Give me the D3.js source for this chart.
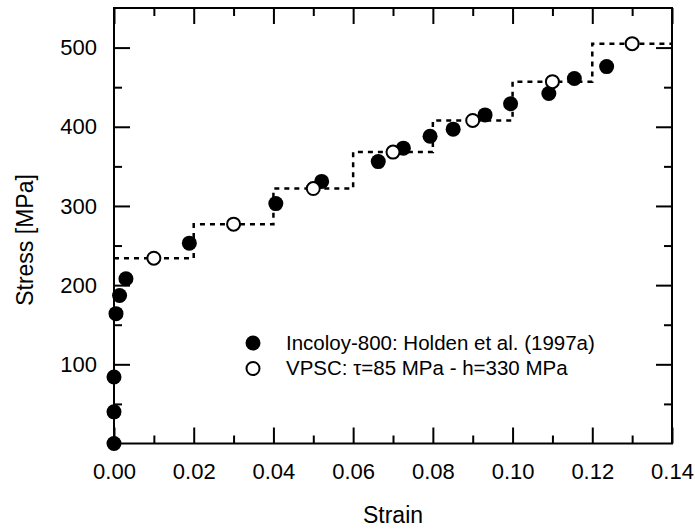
<!DOCTYPE html>
<html>
<head>
<meta charset="utf-8">
<script src="https://cdn.jsdelivr.net/npm/d3@7"></script>
<style>
  body { margin: 0; background: #fff; }
  svg text { font-family: "Liberation Sans", Arial, Helvetica, sans-serif; fill: #000; }
</style>
</head>
<body>
<div id="chart"></div>
<script>
// measured points: Incoloy-800 (Holden et al. 1997a)
const expStrain = [0, 0, 0, 0.0005, 0.0014, 0.003, 0.0189, 0.0406, 0.0521, 0.0663, 0.0726, 0.0793, 0.0851, 0.0931, 0.0995, 0.1091, 0.1155, 0.1236];
const expStress = [0, 40, 84, 164, 187, 208, 253, 303, 331, 356, 373, 388, 397, 415, 429, 442, 461, 476];

// VPSC simulation points
const simStrain = [0.01, 0.03, 0.05, 0.07, 0.09, 0.11, 0.13];
const simStress = [234, 277, 322, 368, 408, 457, 505];

// step curve (stress held constant within each 0.02 strain increment)
const stepStrain = [0, 0.02, 0.04, 0.06, 0.08, 0.10, 0.12, 0.14];
const stepStress = [234, 277, 322, 368, 408, 457, 505, 505];

const xTicks = [0, 0.02, 0.04, 0.06, 0.08, 0.10, 0.12, 0.14];
const xMinorTicks = [0.01, 0.03, 0.05, 0.07, 0.09, 0.11, 0.13];
const yTicks = [100, 200, 300, 400, 500];
const yMinorTicks = [50, 150, 250, 350, 450];

const legendLabels = ['Incoloy-800: Holden et al. (1997a)', 'VPSC: \u03c4=85 MPa - h=330 MPa'];

const width = 695, height = 529;
const margin = { left: 114, right: 23, top: 8, bottom: 85.5 };

const svg = d3.select('#chart').append('svg')
  .attr('width', width)
  .attr('height', height)
  .attr('style', 'background-color:white');

const x = d3.scaleLinear().domain([0, 0.14]).range([margin.left, width - margin.right]);
const y = d3.scaleLinear().domain([0, 550]).range([height - margin.bottom, margin.top]);

const x0 = x.range()[0], x1 = x.range()[1];
const y0 = y.range()[0], y1 = y.range()[1];

// draw inward ticks on one side, optionally with labels
function tickAxis(axisFn, scale, values, size, transform, labels, fontSize, padding) {
  const ax = axisFn(scale).tickValues(values).tickSize(-size).tickPadding(padding || 0);
  if (!labels) ax.tickFormat('');
  else ax.tickFormat(d3.format('.2f'));
  const g = svg.append('g').attr('transform', transform).call(ax);
  g.select('.domain').remove();
  g.selectAll('line').attr('stroke', '#000').attr('stroke-width', 2);
  g.selectAll('text').attr('font-size', fontSize).attr('fill', '#000');
  return g;
}

// bottom / top
tickAxis(d3.axisBottom, x, xTicks, 16, `translate(0,${y0})`, true, 22, 20);
tickAxis(d3.axisBottom, x, xMinorTicks, 8, `translate(0,${y0})`);
tickAxis(d3.axisTop, x, xTicks, 16, `translate(0,${y1})`);
tickAxis(d3.axisTop, x, xMinorTicks, 8, `translate(0,${y1})`);

// left / right
const yl = tickAxis(d3.axisLeft, y, yTicks, 16, `translate(${x0},0)`, true, 22, 17);
yl.selectAll('text').text(d => d3.format('d')(d));
tickAxis(d3.axisLeft, y, yMinorTicks, 8, `translate(${x0},0)`);
tickAxis(d3.axisRight, y, yTicks, 16, `translate(${x1},0)`);
tickAxis(d3.axisRight, y, yMinorTicks, 8, `translate(${x1},0)`);

// frame
svg.append('rect')
  .attr('x', x0).attr('y', y1)
  .attr('width', x1 - x0).attr('height', y0 - y1)
  .attr('fill', 'none').attr('stroke', '#000').attr('stroke-width', 2);

// dashed step line
const stepLine = d3.line()
  .x((d, i) => x(stepStrain[i]))
  .y((d, i) => y(stepStress[i]))
  .curve(d3.curveStepAfter);
svg.append('path')
  .datum(stepStrain)
  .attr('d', stepLine)
  .attr('fill', 'none')
  .attr('stroke', '#000')
  .attr('stroke-width', 2.5)
  .attr('stroke-dasharray', '5,5');

// experimental (filled)
svg.append('g').selectAll('circle')
  .data(expStrain)
  .enter()
  .append('circle')
  .attr('cx', (d, i) => x(expStrain[i]))
  .attr('cy', (d, i) => y(expStress[i]))
  .attr('r', 7.5)
  .attr('fill', '#000');

// simulation (open)
svg.append('g').selectAll('circle')
  .data(simStrain)
  .enter()
  .append('circle')
  .attr('cx', (d, i) => x(simStrain[i]))
  .attr('cy', (d, i) => y(simStress[i]))
  .attr('r', 6.5)
  .attr('fill', '#fff')
  .attr('stroke', '#000')
  .attr('stroke-width', 2);

// legend
const legend = svg.append('g').attr('transform', 'translate(253,343)');
legendLabels.forEach((label, i) => {
  const row = legend.append('g').attr('transform', `translate(0,${i * 25.5})`);
  if (i === 0) {
    row.append('circle').attr('r', 7.5).attr('fill', '#000');
  } else {
    row.append('circle').attr('r', 6.5).attr('fill', '#fff').attr('stroke', '#000').attr('stroke-width', 2);
  }
  row.append('text')
    .attr('x', 33)
    .attr('y', 6.5)
    .attr('font-size', 20.5)
    .text(label);
});

// axis titles
svg.append('text')
  .attr('x', (x0 + x1) / 2)
  .attr('y', 523)
  .attr('text-anchor', 'middle')
  .attr('font-size', 23)
  .text('Strain');

svg.append('text')
  .attr('transform', 'translate(33,240) rotate(-90)')
  .attr('text-anchor', 'middle')
  .attr('font-size', 23)
  .text('Stress [MPa]');
</script>
</body>
</html>
